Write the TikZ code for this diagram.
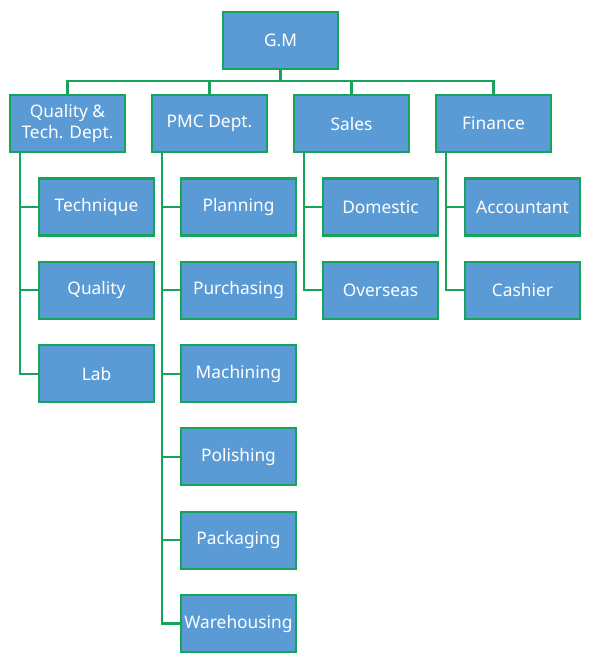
\documentclass[tikz,border=0pt]{standalone}
\usepackage{fontspec}
\setmainfont{Noto Sans}
\usetikzlibrary{positioning}
\definecolor{boxblue}{RGB}{91,155,213}
\definecolor{linegreen}{RGB}{22,163,90}
\tikzset{
  unit/.style={draw=linegreen,fill=boxblue,line width=1.6pt,minimum width=86.25pt,minimum height=42.75pt,
    inner sep=0pt,align=center,text=white,font=\fontsize{13}{16}\selectfont},
  conn/.style={draw=linegreen,line width=1.6pt}
}

\begin{document}
\begin{tikzpicture}[x=0.75pt,y=0.75pt]
  \useasboundingbox (0,0) rectangle (595,-669);
  % top and departments
  \node[unit] (gm) at (280.5,-40.5) {G.M};
  \node[unit] (qt) at (67.5,-123.5) {Quality \&\\Tech. Dept.};
  \node[unit] (pmc) at (209.5,-123.5) {PMC Dept.};
  \node[unit] (sales) at (351.5,-123.5) {Sales};
  \node[unit] (fin) at (493.5,-123.5) {Finance};
  % quality & tech
  \node[unit] (tech) at (96.5,-207) {Technique};
  \node[unit] (qual) at (96.5,-290.3) {Quality};
  \node[unit] (lab) at (96.5,-373.6) {Lab};
  % pmc
  \node[unit] (plan) at (238.5,-207) {Planning};
  \node[unit] (purch) at (238.5,-290.3) {Purchasing};
  \node[unit] (mach) at (238.5,-373.6) {Machining};
  \node[unit] (pol) at (238.5,-456.9) {Polishing};
  \node[unit] (pack) at (238.5,-540.2) {Packaging};
  \node[unit] (ware) at (238.5,-623.5) {Warehousing};
  % sales
  \node[unit] (dom) at (380.5,-207) {Domestic};
  \node[unit] (over) at (380.5,-290.3) {Overseas};
  % finance
  \node[unit] (acc) at (522.5,-207) {Accountant};
  \node[unit] (cash) at (522.5,-290.3) {Cashier};

  \foreach \d in {qt,pmc,sales,fin}
    \draw[conn] (gm.south) -- ++(0,-11) -| (\d.north);
  \foreach \d/\c in {qt/tech,qt/qual,qt/lab,pmc/plan,pmc/purch,pmc/mach,pmc/pol,pmc/pack,pmc/ware,sales/dom,sales/over,fin/acc,fin/cash}
    \draw[conn] ([xshift=8.25pt]\d.south west) |- (\c.west);
\end{tikzpicture}
\end{document}
